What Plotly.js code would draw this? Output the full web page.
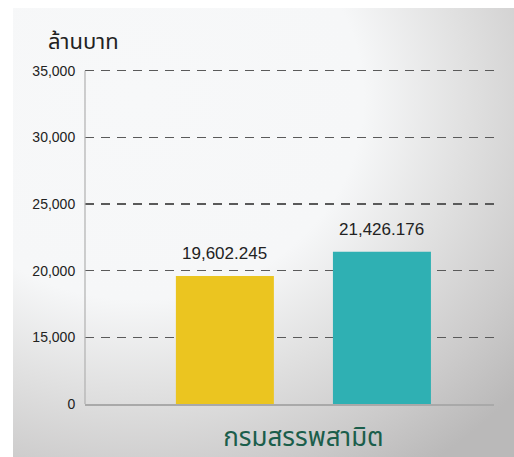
<!DOCTYPE html>
<html>
<head>
<meta charset="utf-8">
<script src="https://cdn.plot.ly/plotly-3.0.1.min.js"></script>
<style>
  html, body { margin: 0; padding: 0; background: #ffffff; }
  #wrap { position: relative; width: 514px; height: 457px; overflow: hidden; }
  #panel {
    position: absolute; left: 13px; top: 8px; width: 501px; height: 449px;
    background: radial-gradient(ellipse 100% 100% at 25% 20%, #f7f8f9 0%, #f6f7f8 45%, #e0e0e0 66%, #cccbcb 85%, #bab9b9 100%);
  }
  #chart { position: absolute; left: 0; top: 0; width: 514px; height: 457px; }
</style>
</head>
<body>
<div id="wrap">
  <div id="panel"></div>
  <div id="chart"></div>
</div>
<script>
// ---- data ----
const categories = ["กรมสรรพสามิต"];
const seriesA = [19602.245];
const seriesB = [21426.176];
const seriesColors = ["#EBC520", "#2FB0B3"];
const yTickVals = [10000, 15000, 20000, 25000, 30000, 35000];
const yTickText = ["0", "15,000", "20,000", "25,000", "30,000", "35,000"];
const yTitle = "ล้านบาท";

const thaiFont = "'Noto Sans Thai', 'Noto Sans Thai UI', Tahoma, 'Noto Sans', sans-serif";
const numFont = "'Liberation Sans', Arial, Helvetica, sans-serif";

function fmt(v) {
  return v.toLocaleString('en-US', {minimumFractionDigits: 3, maximumFractionDigits: 3});
}

const traces = [seriesA, seriesB].map((vals, i) => ({
  type: 'bar',
  x: categories,
  y: vals,
  marker: {color: seriesColors[i], line: {width: 0}},
  hoverinfo: 'skip',
  showlegend: false
}));

const annotations = [];
[seriesA, seriesB].forEach((vals, i) => {
  vals.forEach((v, j) => {
    annotations.push({
      x: j, y: v, xref: 'x', yref: 'y',
      text: fmt(v), showarrow: false,
      xshift: i === 0 ? -78.5 : 78.5,
      yanchor: 'middle', yshift: 22,
      font: {family: numFont, size: 17, color: '#222222'}
    });
  });
});

const layout = {
  width: 514, height: 457,
  margin: {l: 85, r: 20, t: 64, b: 53, pad: 0},
  paper_bgcolor: 'rgba(0,0,0,0)',
  plot_bgcolor: 'rgba(0,0,0,0)',
  barmode: 'group',
  bargap: 0.232,
  bargroupgap: 0.376,
  title: {
    text: yTitle,
    xref: 'container', yref: 'container',
    x: 48 / 514, xanchor: 'left',
    y: 1 - 41 / 457, yanchor: 'middle',
    font: {family: thaiFont, size: 22, color: '#222222'}
  },
  xaxis: {
    type: 'category',
    range: [-0.534, 0.466],
    showgrid: false,
    zeroline: false,
    showline: true, linecolor: '#a9a9a9', linewidth: 2,
    ticks: 'outside', ticklen: 9, tickcolor: 'rgba(0,0,0,0)',
    tickfont: {family: thaiFont, size: 26, color: '#1B5E4B'},
    fixedrange: true
  },
  yaxis: {
    range: [10000, 35500],
    tickvals: yTickVals,
    ticktext: yTickText,
    showgrid: true,
    gridcolor: '#5a5a5a', gridwidth: 1.5, griddash: '9px,7px',
    zeroline: false,
    showline: false,
    ticks: 'outside', ticklen: 6, tickcolor: 'rgba(0,0,0,0)',
    tickfont: {family: numFont, size: 14, color: '#222222'},
    fixedrange: true
  },
  shapes: [{
    type: 'line', xref: 'paper', yref: 'y',
    x0: 0, x1: 0,
    y0: yTickVals[0], y1: yTickVals[yTickVals.length - 1],
    line: {color: '#b0b0b0', width: 1.2},
    layer: 'above'
  }],
  annotations: annotations,
  font: {family: numFont}
};

Plotly.newPlot('chart', traces, layout, {displayModeBar: false, staticPlot: true});
</script>
</body>
</html>
